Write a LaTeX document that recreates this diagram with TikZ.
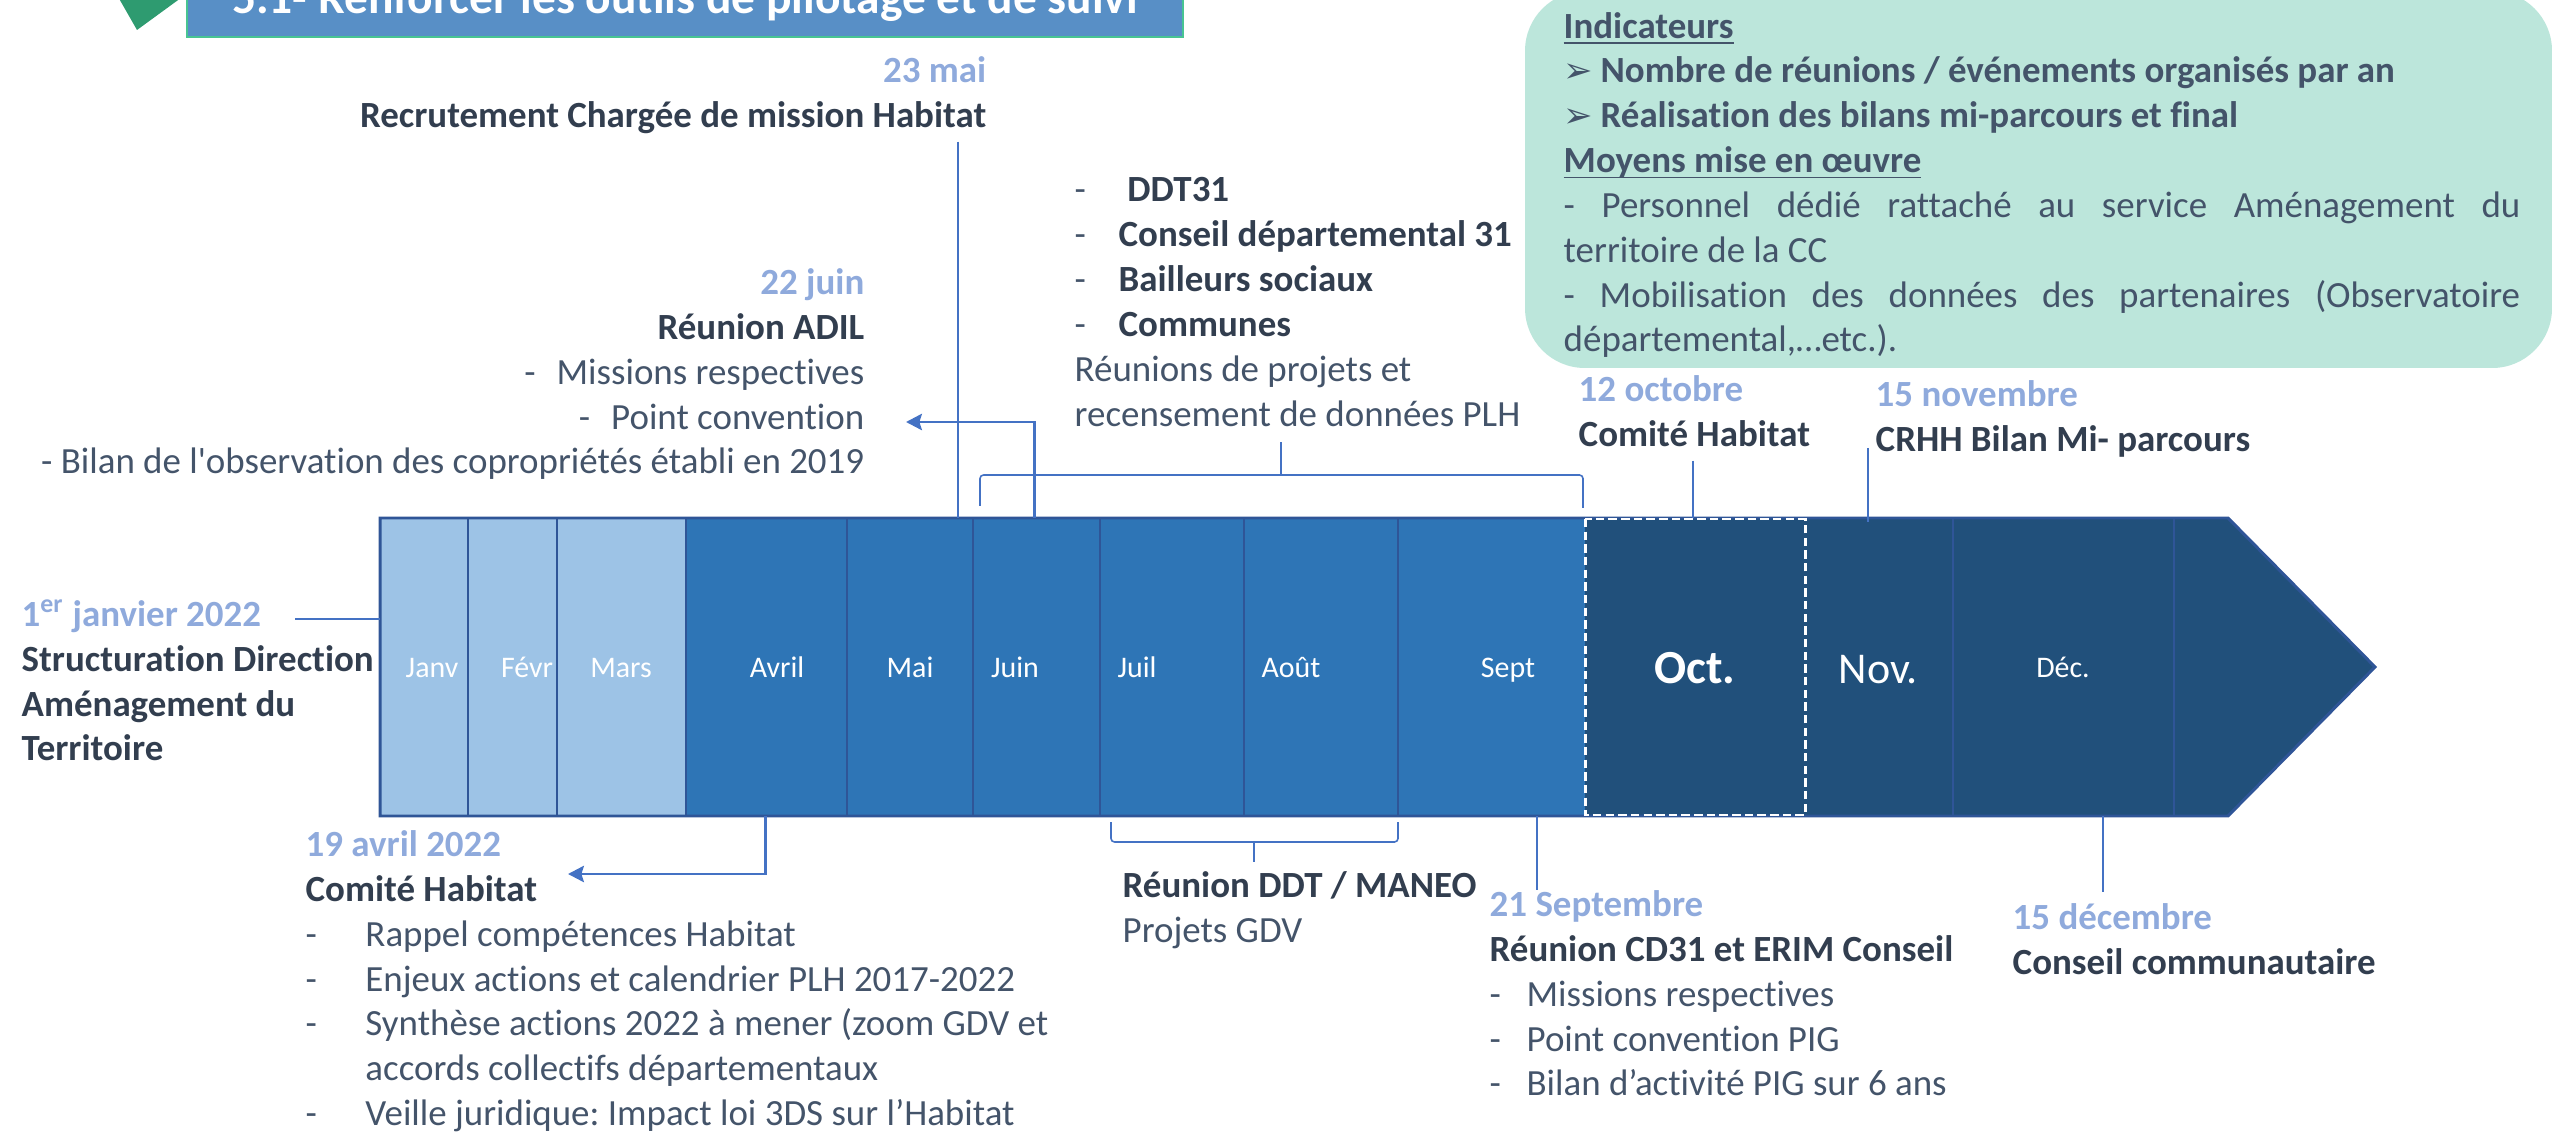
\documentclass[tikz,border=0pt]{standalone}
\usepackage{fontspec}
\setmainfont{Carlito}[Ligatures={TeX,NoCommon}]
\newfontfamily\dingfont{DejaVu Sans}
\usetikzlibrary{arrows.meta,positioning}
\frenchspacing
\definecolor{moisclair}{RGB}{157,195,230}
\definecolor{moismoyen}{RGB}{46,117,182}
\definecolor{moisfonce}{RGB}{33,80,123}
\definecolor{bordbleu}{RGB}{47,85,151}
\definecolor{lienbleu}{RGB}{68,114,196}
\definecolor{datebleu}{RGB}{143,170,220}
\definecolor{textefonce}{RGB}{50,62,79}
\definecolor{textegris}{RGB}{68,84,106}
\definecolor{cadrevert}{RGB}{188,230,219}
\definecolor{titrebleu}{RGB}{88,143,198}
\definecolor{titrevert}{RGB}{72,196,146}
\definecolor{flechevert}{RGB}{46,155,112}
\newcommand{\jour}[1]{\textcolor{datebleu}{\bfseries #1}}
\newcommand{\objet}[1]{\textcolor{textefonce}{\bfseries #1}}
\newcommand{\souligne}[1]{\underline{\smash{#1}}}
\newcommand{\tiret}[1][12.5pt]{\makebox[#1][l]{-}}
\newcommand{\puce}{\makebox[10.5pt][l]{\dingfont\fontsize{10}{10}\selectfont ➢}}

\begin{document}
\begin{tikzpicture}[x=0.01cm,y=-0.01cm,
  every node/.style={inner sep=0pt},
  txt/.style={font=\fontsize{10.5}{12.75}\selectfont, text=textegris, execute at begin node=\strut},
  mois/.style={text=white, font=\fontsize{8.5}{10}\selectfont, anchor=base},
  conn/.style={lienbleu, line width=0.45pt},
  fleche/.style={lienbleu, line width=0.85pt, -{Stealth[length=4.5pt,width=4.6pt,inset=0.7pt]}},
  accolade/.style={lienbleu, line width=0.45pt, rounded corners=1pt}]
  \useasboundingbox (0,0) rectangle (2552,1137);
  \clip (0,0) rectangle (2552,1137);

  \fill[flechevert] (117,-5) -- (185,-5) -- (137,30) -- cycle;
  \draw[titrevert, line width=0.6pt, fill=titrebleu] (187,-60) rectangle (1183,37);
  \node[font=\fontsize{13.5}{16}\selectfont\bfseries, text=white, anchor=base] (titre) at (685,14) {5.1- Renforcer les outils de pilotage et de suivi};

  \fill[cadrevert, rounded corners=17pt] (1525,-9) rectangle (2552,368);
  \node[txt, anchor=north west, text width=272pt, align=justify] (cadre) at (1563,6) {%
    \textbf{\souligne{Indicateurs}}\\
    \puce\textbf{Nombre de réunions / événements organisés par an}\\
    \puce\textbf{Réalisation des bilans mi-parcours et final}\\
    \textbf{\souligne{Moyens mise en œuvre}}\\
    - Personnel dédié rattaché au service Aménagement du\linebreak territoire de la CC\\
    - Mobilisation des données des partenaires (Observatoire\linebreak départemental,…etc.).};

  \foreach \a/\b/\c in {380/468/moisclair, 468/557/moisclair, 557/686/moisclair,
      686/847/moismoyen, 847/973/moismoyen, 973/1100/moismoyen,
      1100/1244/moismoyen, 1244/1398/moismoyen, 1398/1585/moismoyen}
    \fill[\c] (\a,518) rectangle (\b,816);
  \fill[moisfonce] (1585,518) -- (2228,518) -- (2375,667) -- (2228,816) -- (1585,816) -- cycle;
  \foreach \x in {468,557,686,847,973,1100,1244,1398,1953,2174}
    \draw[bordbleu, line width=0.55pt] (\x,518) -- (\x,816);
  \draw[bordbleu, line width=0.85pt] (380,518) -- (2228,518) -- (2375,667) -- (2228,816) -- (380,816) -- cycle;
  \draw[white, line width=0.85pt, dash pattern=on 2.4pt off 1.2pt] (1585,519) rectangle (1805,815);

  \foreach \x/\m/\n in {432/Janv/janv, 527/Févr/fevr, 621/Mars/mars, 777/Avril/avril,
      910/Mai/mai, 1015/Juin/juin, 1137/Juil/juil, 1291/Août/aout, 1508/Sept/sept, 2063/Déc./dec}
    \node[mois] (l\n) at (\x,677) {\m};
  \node[mois, font=\fontsize{13.5}{16}\selectfont\bfseries] (loct) at (1695,683) {Oct.};
  \node[mois, font=\fontsize{12.5}{15}\selectfont] (lnov) at (1878,683) {Nov.};

  \node[txt, anchor=north east, align=right] (recrut) at (987,56)
    {\jour{23 mai}\\\objet{Recrutement Chargée de mission Habitat}};
  \node[txt, anchor=north east, align=right] (adil) at (865,268)
    {\jour{22 juin}\\\objet{Réunion ADIL}\\-\hspace{6pt}Missions respectives\\-\hspace{6pt}Point convention\\- Bilan de l\textquotesingle observation des copropriétés établi en 2019};
  \node[txt, anchor=north west, align=left] (ddt) at (1074,177)
    {\tiret\hspace{2.5pt}\objet{DDT31}\\\tiret\objet{Conseil départemental 31}\\\tiret\objet{Bailleurs sociaux}\\\tiret\objet{Communes}\\Réunions de projets et\\recensement de données PLH};
  \node[txt, anchor=north west, align=left] (dirAT) at (21,599)
    {\jour{1\textsuperscript{er} janvier 2022}\\\objet{Structuration Direction}\\\objet{Aménagement du}\\\objet{Territoire}};
  \node[txt, anchor=north west, align=left] (comOct) at (1578,375)
    {\jour{12 octobre}\\\objet{Comité Habitat}};
  \node[txt, anchor=north west, align=left] (crhh) at (1875,380)
    {\jour{15 novembre}\\\objet{CRHH Bilan Mi- parcours}};
  \node[txt, anchor=north west, align=left] (comAvr) at (305,830)
    {\jour{19 avril 2022}\\\objet{Comité Habitat}\\
     \tiret[17pt]Rappel compétences Habitat\\
     \tiret[17pt]Enjeux actions et calendrier PLH 2017-2022\\
     \tiret[17pt]Synthèse actions 2022 à mener (zoom GDV et\\
     \hspace*{17pt}accords collectifs départementaux\\
     \tiret[17pt]Veille juridique: Impact loi 3DS sur l’Habitat};
  \node[txt, anchor=north west, align=left] (maneo) at (1122,871)
    {\objet{Réunion DDT / MANEO}\\Projets GDV};
  \node[txt, anchor=north west, align=left] (cd31) at (1489,890)
    {\jour{21 Septembre}\\\objet{Réunion CD31 et ERIM Conseil}\\
     \tiret[10.5pt]Missions respectives\\\tiret[10.5pt]Point convention PIG\\\tiret[10.5pt]Bilan d’activité PIG sur 6 ans};
  \node[txt, anchor=north west, align=left] (conseil) at (2012,903)
    {\jour{15 décembre}\\\objet{Conseil communautaire}};

  \coordinate (mai-haut) at (958,518);
  \coordinate (juin-haut) at (1034,518);
  \coordinate (adil-fin) at (906,422);
  \coordinate (acc-g) at (980,506);
  \coordinate (acc-m) at (1281,475);
  \coordinate (acc-d) at (1583,508);
  \coordinate (acc-p) at (1281,442);
  \coordinate (oct-haut) at (1693,518);
  \coordinate (nov-lien) at (1868,448);
  \coordinate (nov-haut) at (1868,522);
  \coordinate (jan-lien) at (295,619);
  \coordinate (jan-bord) at (380,619);
  \coordinate (avr-bas) at (765,816);
  \coordinate (avr-fin) at (568,874);
  \coordinate (acc2-g) at (1111,822);
  \coordinate (acc2-m) at (1254,842);
  \coordinate (acc2-d) at (1398,822);
  \coordinate (acc2-p) at (1254,862);
  \coordinate (sep-bas) at (1537,816);
  \coordinate (dec-bas) at (2103,816);
  \coordinate (dec-lien) at (2103,892);

  \draw[conn] (recrut.south -| mai-haut) -- (mai-haut);
  \draw[fleche] (juin-haut) |- (adil-fin);
  \draw[accolade] (acc-g) |- (acc-m) -| (acc-d);
  \draw[conn] (acc-m) -- (acc-p);
  \draw[conn] (comOct.south -| oct-haut) -- (oct-haut);
  \draw[conn] (nov-lien) -- (nov-haut);
  \draw[conn] (jan-lien) -- (jan-bord);
  \draw[fleche] (avr-bas) |- (avr-fin);
  \draw[accolade] (acc2-g) |- (acc2-m) -| (acc2-d);
  \draw[conn] (acc2-m) -- (acc2-p);
  \draw[conn] (sep-bas) -- (cd31.north -| sep-bas);
  \draw[conn] (dec-bas) -- (dec-lien);
\end{tikzpicture}
\end{document}
